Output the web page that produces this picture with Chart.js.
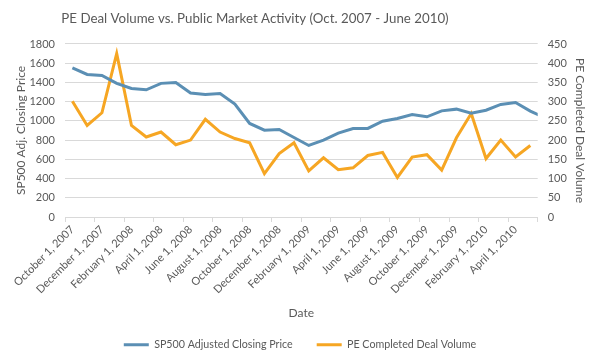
<!DOCTYPE html>
<html><head><meta charset="utf-8">
<script src="https://cdn.jsdelivr.net/npm/chart.js@4.4.1/dist/chart.umd.min.js"></script>
<style>html,body{margin:0;padding:0;background:#fff}#wrap{width:600px;height:360px;position:relative}</style>
</head><body><div id="wrap"><canvas id="c" width="600" height="360" style="width:600px;height:360px"></canvas></div>
<script>
const categories = [
  'October 1, 2007','November 1, 2007','December 1, 2007',
  'January 1, 2008','February 1, 2008','March 1, 2008','April 1, 2008','May 1, 2008','June 1, 2008',
  'July 1, 2008','August 1, 2008','September 1, 2008','October 1, 2008','November 1, 2008','December 1, 2008',
  'January 1, 2009','February 1, 2009','March 1, 2009','April 1, 2009','May 1, 2009','June 1, 2009',
  'July 1, 2009','August 1, 2009','September 1, 2009','October 1, 2009','November 1, 2009','December 1, 2009',
  'January 1, 2010','February 1, 2010','March 1, 2010','April 1, 2010','May 1, 2010','June 1, 2010'
];
const sp500Close = [1552,1483,1473,1390,1337,1323,1390,1400,1289,1275,1285,1174,973,903,910,827,744,799,872,921,921,997,1025,1066,1042,1104,1122,1080,1111,1171,1191,1101,1030];
const peDealVolume = [301,238,271,425,238,208,221,188,200,254,221,204,193,113,165,193,120,154,123,128,160,168,103,156,162,122,206,269,152,200,156,186];
const leftTicks = {min: 0, max: 1800, step: 200};
const rightTicks = {min: 0, max: 450, step: 50};
const shownMonths = 32; // axis spans Oct 2007 .. May 2010

const FONT = 'Lato';
const TXT = '#595959';
const GRID = '#d9d9d9';

const toXY = arr => arr.map((v, i) => ({x: i, y: v}));

const titleShift = {
  id: 'titleShift',
  afterLayout(chart) { const t = chart.titleBlock; if (t) { t.right = 510; t.width = 510; } }
};

new Chart(document.getElementById('c'), {
  type: 'line',
  data: {
    datasets: [
      {label: 'SP500 Adjusted Closing Price', data: toXY(sp500Close), yAxisID: 'y', borderColor: '#5B8FB4', backgroundColor: '#5B8FB4',
       borderWidth: 3, pointRadius: 0, pointStyle: 'line', tension: 0, clip: {left: 5, top: 5, right: 0, bottom: 5}},
      {label: 'PE Completed Deal Volume', data: toXY(peDealVolume), yAxisID: 'y1', borderColor: '#F6A623', backgroundColor: '#F6A623',
       borderWidth: 3, pointRadius: 0, pointStyle: 'line', tension: 0}
    ]
  },
  plugins: [titleShift],
  options: {
    responsive: false, animation: false, devicePixelRatio: 1,
    layout: {padding: 0},
    plugins: {
      title: {display: true, text: 'PE Deal Volume vs. Public Market Activity (Oct. 2007 - June 2010)',
        color: TXT, font: {family: FONT, size: 13.3, weight: 'normal'}, padding: {top: 10.5, bottom: 17.5}},
      legend: {position: 'bottom', labels: {usePointStyle: true, pointStyle: 'line', pointStyleWidth: 25, padding: 24,
        color: TXT, font: {family: FONT, size: 10.7}}},
      tooltip: {enabled: false}
    },
    scales: {
      x: {
        type: 'linear', min: -0.5, max: shownMonths - 0.5,
        afterBuildTicks: s => { s.ticks = categories.slice(0, shownMonths).map((c, i) => ({value: i})); },
        grid: {offset: true, drawOnChartArea: false, drawTicks: true, tickLength: 5,
          color: ctx => (!ctx.tick || ctx.tick.value % 2 === 0) ? GRID : 'rgba(0,0,0,0)'},
        border: {display: true, color: GRID},
        ticks: {autoSkip: false, minRotation: 45, maxRotation: 45, padding: 1, color: TXT, font: {family: FONT, size: 11},
          callback: v => (Number.isInteger(v) && v % 2 === 0) ? categories[v] : ''},
        title: {display: true, text: 'Date', color: TXT, font: {family: FONT, size: 12}, padding: {top: 0, bottom: -4.8}},
        afterFit: s => { s.height = 98.3; }
      },
      y: {
        position: 'left', min: leftTicks.min, max: leftTicks.max,
        ticks: {stepSize: leftTicks.step, padding: 10, color: TXT, font: {family: FONT, size: 11}, callback: v => String(v)},
        grid: {color: GRID, drawTicks: false}, border: {display: false},
        title: {display: true, text: 'SP500 Adj. Closing Price', color: TXT, font: {family: FONT, size: 12}, padding: {top: 13.8, bottom: 0}},
        afterFit: s => { s.width = 65; }
      },
      y1: {
        position: 'right', min: rightTicks.min, max: rightTicks.max,
        ticks: {stepSize: rightTicks.step, padding: 10, color: TXT, font: {family: FONT, size: 11}, callback: v => String(v)},
        grid: {drawOnChartArea: false, drawTicks: false}, border: {display: false},
        title: {display: true, text: 'PE Completed Deal Volume', color: TXT, font: {family: FONT, size: 12}, padding: {top: 13.3, bottom: 0}},
        afterFit: s => { s.width = 62.3; }
      }
    }
  }
});
</script></body></html>
